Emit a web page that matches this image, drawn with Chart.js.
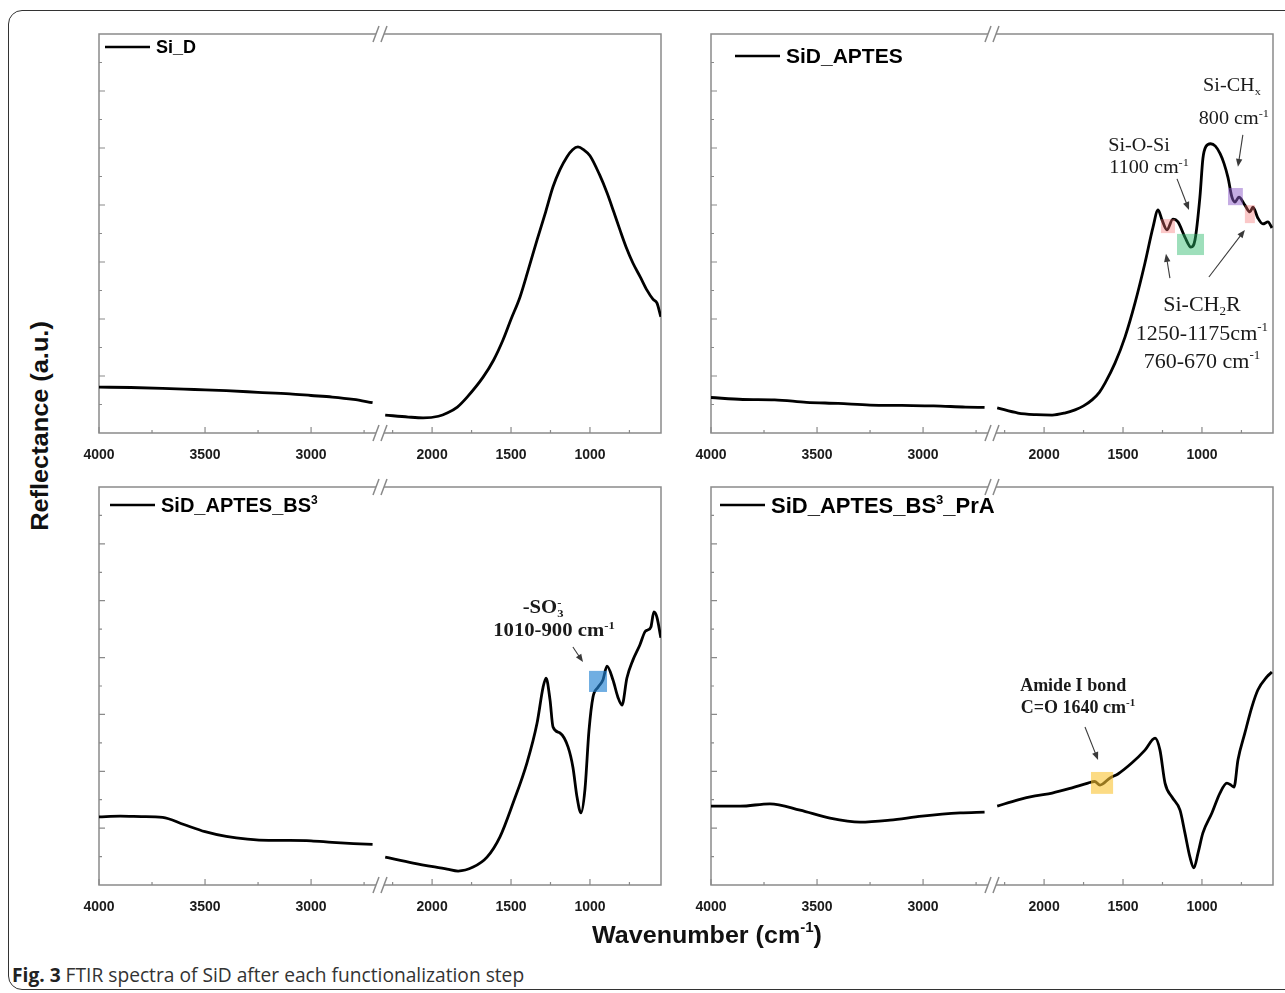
<!DOCTYPE html>
<html lang="en">
<head>
    <meta charset="UTF-8">
    <title>FTIR spectra of SiD</title>
    <script src="https://cdn.jsdelivr.net/npm/chart.js@4.4.1/dist/chart.umd.min.js"></script>
    <style>
        body { margin: 0; background: #fff; }
        .figure { position: relative; width: 1285px; height: 993px; overflow: hidden; font-family: "Liberation Sans", Arial, sans-serif; }
        .outer { position: absolute; left: 8px; top: 10px; width: 1300px; height: 980px; border: 1.5px solid #333; border-radius: 14px; box-sizing: border-box; }
        canvas { position: absolute; }
        .y-title, .x-title { position: absolute; font-weight: bold; font-size: 24px; color: #111; white-space: nowrap; line-height: 1; }
        .y-title { left: 40px; top: 426px; }
        .x-title { left: 707px; top: 935px; }
        .x-title sup { font-size: 60%; vertical-align: 0; position: relative; top: -0.75em; }
        .caption { position: absolute; left: 12px; top: 975px; font-family: "Open Sans", sans-serif; font-size: 20px; color: #333; white-space: nowrap; line-height: 1; transform-origin: 0 50%; }
        .caption b { color: #222; }
    </style>
</head>
<body>
<div class="figure">
    <div class="outer"></div>
    <canvas id="p1" width="642" height="470" style="left:59px; top:14px"></canvas>
    <canvas id="p2" width="614" height="470" style="left:671px; top:14px"></canvas>
    <canvas id="p3" width="642" height="470" style="left:59px; top:467px"></canvas>
    <canvas id="p4" width="614" height="470" style="left:671px; top:467px"></canvas>
    <div class="y-title" id="yTitle">Reflectance (a.u.)</div>
    <div class="x-title" id="xTitle">Wavenumber (cm<sup>-1</sup>)</div>
    <div class="caption" id="caption"><b>Fig. 3</b> FTIR spectra of SiD after each functionalization step</div>
</div>

<script>
    // broken wavenumber axis (cm-1): high part on the left, low part on the right
    const hiRange = [2675, 4000];
    const loRange = [550, 2330];
    const hiLabels = [4000, 3500, 3000];
    const hiMinor = [3750, 3250, 2750];
    const loLabels = [2000, 1500, 1000];
    const loMinor = [2250, 1750, 1250, 750];

    // Si_D
    const siD_hiWn = [4000, 3850, 3700, 3550, 3400, 3250, 3100, 3000, 2900, 2800, 2710];
    const siD_hiR  = [11.5, 11.4, 11.2, 10.9, 10.6, 10.2, 9.8, 9.4, 9.0, 8.4, 7.6];
    const siD_loWn = [2297, 2150, 2057, 1960, 1905, 1840, 1778, 1677, 1610, 1551, 1500, 1443, 1390, 1335, 1280, 1234, 1190, 1146, 1110, 1076, 1040, 1000, 940, 892, 850, 810, 770, 728, 680, 639, 600, 576, 551];
    const siD_loR  = [4.5, 4.0, 3.8, 4.2, 5.0, 6.5, 9.0, 14.0, 18.3, 23.3, 28.5, 34.1, 41.0, 48.4, 55.5, 61.7, 66.0, 69.2, 71.0, 71.7, 71.0, 69.5, 64.8, 60.2, 55.5, 50.9, 46.5, 42.6, 39.0, 35.8, 33.5, 32.6, 29.1];

    // SiD_APTES
    const aptes_hiWn = [4000, 3850, 3700, 3550, 3400, 3250, 3100, 2950, 2800, 2710];
    const aptes_hiR  = [8.9, 8.4, 8.3, 7.7, 7.4, 7.0, 6.9, 6.8, 6.5, 6.4];
    const aptes_loWn = [2297, 2165, 2050, 1949, 1870, 1804, 1750, 1696, 1650, 1614, 1551, 1487, 1424, 1361, 1310, 1278, 1253, 1222, 1184, 1152, 1108, 1070, 1044, 1013, 994, 975, 945, 915, 885, 860, 835, 810, 791, 766, 728, 696, 677, 646, 614, 582, 557];
    const aptes_loR  = [6.3, 5.0, 4.6, 4.5, 5.0, 5.8, 6.8, 8.3, 10.2, 12.5, 17.5, 24.1, 32.6, 42.6, 51.6, 55.9, 53.4, 50.9, 53.6, 52.9, 49.1, 46.6, 48.4, 59.1, 68.8, 71.8, 72.5, 71.9, 70.0, 67.5, 64.0, 59.1, 57.9, 59.1, 57.1, 55.4, 56.6, 53.9, 52.4, 52.9, 51.4];

    // SiD_APTES_BS3
    const bs_hiWn = [4000, 3900, 3800, 3700, 3600, 3500, 3400, 3300, 3200, 3100, 3000, 2900, 2800, 2710];
    const bs_hiR  = [17.1, 17.3, 17.2, 17.0, 15.2, 13.4, 12.2, 11.5, 11.2, 11.2, 11.1, 10.7, 10.4, 10.2];
    const bs_loWn = [2297, 2120, 1905, 1835, 1740, 1652, 1570, 1487, 1399, 1335, 1297, 1278, 1253, 1234, 1190, 1139, 1108, 1082, 1057, 1032, 1006, 981, 949, 918, 892, 854, 823, 797, 766, 728, 684, 652, 633, 614, 595, 576, 551];
    const bs_loR  = [7.0, 5.5, 4.0, 3.5, 4.5, 7.0, 12.1, 20.6, 30.7, 40.7, 49.7, 52.0, 46.5, 39.7, 38.2, 34.7, 29.6, 22.1, 18.1, 23.9, 38.9, 47.2, 49.7, 51.5, 55.0, 51.5, 47.2, 45.2, 52.0, 56.5, 60.3, 63.6, 64.1, 64.8, 68.6, 67.3, 62.1];

    // SiD_APTES_BS3_PrA
    const prA_hiWn = [4000, 3863, 3722, 3580, 3439, 3297, 3156, 3005, 2825, 2710];
    const prA_hiR  = [19.8, 19.8, 20.4, 18.8, 16.8, 15.8, 16.3, 17.3, 18.1, 18.3];
    const prA_loWn = [2297, 2165, 2057, 1949, 1823, 1722, 1680, 1646, 1582, 1532, 1443, 1361, 1297, 1266, 1234, 1190, 1139, 1108, 1076, 1051, 1025, 994, 937, 886, 842, 816, 797, 772, 728, 684, 646, 589, 557];
    const prA_loR  = [19.8, 21.4, 22.4, 23.1, 24.4, 25.6, 26.0, 25.1, 26.9, 27.9, 30.7, 33.9, 36.9, 33.9, 25.6, 22.1, 18.8, 13.1, 7.0, 4.3, 8.0, 13.1, 18.1, 23.1, 25.6, 25.1, 24.6, 31.4, 38.2, 44.7, 49.0, 52.3, 53.5];

    const SANS = '"Liberation Sans", Arial, sans-serif';
    const SERIF = '"Liberation Serif", "Times New Roman", serif';
    const FRAME = '#8a8a8a';

    const pts = (wn, r) => wn.map((w, i) => ({ x: w, y: r[i] }));

    // text with simple sub/superscripts: parts = [[text, 'sub'|'sup'|undefined, stackOnPrevious]]
    function drawRich(ctx, x, y, parts, o) {
        const small = Math.round(o.size * 0.6);
        const font = kind => `${o.weight || 'normal'} ${kind ? small : o.size}px ${o.family}`;
        let w = 0, prev = 0;
        const laid = parts.map(([text, kind, stack]) => {
            ctx.font = font(kind);
            const tw = ctx.measureText(text).width;
            const px = stack ? prev : w;
            prev = px;
            w = Math.max(w, px + tw);
            return { text, kind, px };
        });
        ctx.save();
        ctx.translate(x, y);
        ctx.scale(o.stretch || 1, 1);
        const x0 = o.align === 'center' ? -w / 2 : 0;
        ctx.fillStyle = o.color || '#111';
        ctx.textBaseline = 'alphabetic';
        ctx.textAlign = 'left';
        const base = o.size * 0.35;
        laid.forEach(p => {
            ctx.font = font(p.kind);
            const dy = p.kind === 'sup' ? -o.size * 0.4 : p.kind === 'sub' ? o.size * 0.22 : 0;
            ctx.fillText(p.text, x0 + p.px, base + dy);
        });
        ctx.restore();
    }

    function drawFrame(chart) {
        const { ctx, chartArea: a, scales } = chart;
        const y = scales.y, hi = scales.xHi, lo = scales.xLo;
        ctx.save();
        ctx.strokeStyle = FRAME;
        ctx.lineWidth = 1.5;
        ctx.strokeRect(a.left, a.top, a.right - a.left, a.bottom - a.top);

        // inward ticks, left axis
        ctx.lineWidth = 1.2;
        ctx.beginPath();
        for (let k = 1; k < 14; k++) {
            const py = y.getPixelForValue(k * 100 / 14);
            ctx.moveTo(a.left, py);
            ctx.lineTo(a.left + (k % 2 ? 3 : 6), py);
        }
        // inward ticks, bottom axis
        [[hi, hiLabels, 6], [hi, hiMinor, 3], [lo, loLabels, 6], [lo, loMinor, 3]].forEach(([s, vals, len]) => {
            vals.forEach(v => {
                const px = s.getPixelForValue(v);
                ctx.moveTo(px, a.bottom);
                ctx.lineTo(px, a.bottom - len);
            });
        });
        ctx.stroke();

        // axis break marks "//"
        const xm = hi.right;
        [a.top, a.bottom].forEach(yy => {
            ctx.fillStyle = '#fff';
            ctx.fillRect(xm - 4, yy - 2, 8, 4);
            ctx.strokeStyle = FRAME;
            ctx.lineWidth = 1.5;
            ctx.beginPath();
            ctx.moveTo(xm - 7, yy + 8); ctx.lineTo(xm - 1, yy - 8);
            ctx.moveTo(xm + 1, yy + 8); ctx.lineTo(xm + 7, yy - 8);
            ctx.stroke();
        });
        ctx.restore();
    }

    function drawArrow(ctx, x1, y1, x2, y2) {
        const ang = Math.atan2(y2 - y1, x2 - x1);
        ctx.beginPath();
        ctx.moveTo(x1, y1);
        ctx.lineTo(x2 - 5 * Math.cos(ang), y2 - 5 * Math.sin(ang));
        ctx.stroke();
        ctx.beginPath();
        ctx.moveTo(x2, y2);
        ctx.lineTo(x2 - 8 * Math.cos(ang) + 3.2 * Math.sin(ang), y2 - 8 * Math.sin(ang) - 3.2 * Math.cos(ang));
        ctx.lineTo(x2 - 8 * Math.cos(ang) - 3.2 * Math.sin(ang), y2 - 8 * Math.sin(ang) + 3.2 * Math.cos(ang));
        ctx.closePath();
        ctx.fill();
    }

    function drawNotes(chart, notes) {
        const { ctx, scales } = chart;
        const sx = scales.xLo, sy = scales.y;
        ctx.save();
        (notes.boxes || []).forEach(b => {
            const x1 = sx.getPixelForValue(b.wn[0]), x2 = sx.getPixelForValue(b.wn[1]);
            const y1 = sy.getPixelForValue(b.r[0]), y2 = sy.getPixelForValue(b.r[1]);
            ctx.fillStyle = b.color;
            ctx.fillRect(x1, y1, x2 - x1, y2 - y1);
        });
        ctx.strokeStyle = '#3a3a3a';
        ctx.fillStyle = '#3a3a3a';
        ctx.lineWidth = 1.1;
        (notes.arrows || []).forEach(ar => {
            drawArrow(ctx,
                sx.getPixelForValue(ar.from[0]), sy.getPixelForValue(ar.from[1]),
                sx.getPixelForValue(ar.to[0]), sy.getPixelForValue(ar.to[1]));
        });
        (notes.labels || []).forEach(l => {
            drawRich(ctx, sx.getPixelForValue(l.wn), sy.getPixelForValue(l.r), l.parts,
                { size: l.size, family: SERIF, weight: l.weight, stretch: l.stretch, align: 'center', color: '#1a1a1a' });
        });
        ctx.restore();
    }

    function drawLegend(chart, lg) {
        const { ctx, chartArea: a } = chart;
        const y = a.top + lg.dy;
        ctx.save();
        ctx.strokeStyle = '#000';
        ctx.lineWidth = 2.5;
        ctx.beginPath();
        ctx.moveTo(a.left + lg.dx0, y);
        ctx.lineTo(a.left + lg.dx1, y);
        ctx.stroke();
        drawRich(ctx, a.left + lg.dx1 + 6, y, lg.parts, { size: lg.size, family: SANS, weight: 'bold', color: '#000' });
        ctx.restore();
    }

    function axisOpts(range, labels) {
        return {
            type: 'linear',
            position: 'bottom',
            stack: 'wavenumber',
            stackWeight: 1,
            reverse: true,
            min: range[0],
            max: range[1],
            grid: { display: false, drawTicks: false },
            border: { display: false },
            afterBuildTicks: s => { s.ticks = labels.map(v => ({ value: v })); },
            afterFit: s => { s.height = 40; },
            ticks: {
                autoSkip: false,
                maxRotation: 0,
                padding: 14,
                color: '#1b1b1b',
                font: { family: SANS, size: 14, weight: 'bold' },
                callback: v => String(v)
            }
        };
    }

    function makePanel(id, p) {
        const line = { borderColor: '#000', borderWidth: 2.8, pointRadius: 0, cubicInterpolationMode: 'monotone', yAxisID: 'y' };
        return new Chart(document.getElementById(id), {
            type: 'line',
            data: {
                datasets: [
                    { ...line, label: p.name, data: pts(p.hiWn, p.hiR), xAxisID: 'xHi' },
                    { ...line, label: p.name, data: pts(p.loWn, p.loR), xAxisID: 'xLo' }
                ]
            },
            options: {
                responsive: false,
                animation: false,
                events: [],
                layout: { padding: p.pad },
                plugins: { legend: { display: false }, tooltip: { enabled: false } },
                scales: {
                    xHi: axisOpts(hiRange, hiLabels),
                    xLo: axisOpts(loRange, loLabels),
                    y: { display: false, min: 0, max: 100 }
                }
            },
            plugins: [{
                id: 'spectrumDecor',
                beforeDatasetsDraw: chart => drawFrame(chart),
                afterDatasetsDraw: chart => { drawNotes(chart, p.notes); drawLegend(chart, p.legend); }
            }]
        });
    }

    makePanel('p1', {
        name: 'Si_D',
        hiWn: siD_hiWn, hiR: siD_hiR, loWn: siD_loWn, loR: siD_loR,
        pad: { left: 40, right: 40, top: 20, bottom: 11 },
        legend: { dx0: 6, dx1: 51, dy: 13, size: 18, parts: [['Si_D']] },
        notes: {}
    });

    makePanel('p2', {
        name: 'SiD_APTES',
        hiWn: aptes_hiWn, hiR: aptes_hiR, loWn: aptes_loWn, loR: aptes_loR,
        pad: { left: 40, right: 12, top: 20, bottom: 11 },
        legend: { dx0: 24, dx1: 69, dy: 22, size: 21, parts: [['SiD_APTES']] },
        notes: {
            boxes: [
                { wn: [1260, 1171], r: [53.6, 50.1], color: 'rgba(245,110,110,0.38)' },
                { wn: [1158, 987], r: [49.9, 44.6], color: 'rgba(40,185,105,0.45)' },
                { wn: [835, 741], r: [61.4, 57.1], color: 'rgba(140,90,200,0.5)' },
                { wn: [728, 665], r: [57.1, 52.6], color: 'rgba(245,110,110,0.38)' }
            ],
            arrows: [
                { from: [1158, 63.7], to: [1082, 55.9] },
                { from: [741, 74.7], to: [772, 66.7] },
                { from: [1203, 38.8], to: [1228, 44.9] },
                { from: [956, 39.1], to: [728, 50.9] }
            ],
            labels: [
                { wn: 810, r: 87.2, size: 18, stretch: 1.12, parts: [['Si-CH'], ['x', 'sub']] },
                { wn: 798, r: 78.9, size: 18, stretch: 1.12, parts: [['800 cm'], ['-1', 'sup']] },
                { wn: 1399, r: 72.2, size: 18, stretch: 1.12, parts: [['Si-O-Si']] },
                { wn: 1335, r: 66.7, size: 18, stretch: 1.12, parts: [['1100 cm'], ['-1', 'sup']] },
                { wn: 1000, r: 32.6, size: 22, parts: [['Si-CH'], ['2', 'sub'], ['R']] },
                { wn: 1000, r: 25.3, size: 22, parts: [['1250-1175cm'], ['-1', 'sup']] },
                { wn: 1000, r: 18.3, size: 22, parts: [['760-670 cm'], ['-1', 'sup']] }
            ]
        }
    });

    makePanel('p3', {
        name: 'SiD_APTES_BS3',
        hiWn: bs_hiWn, hiR: bs_hiR, loWn: bs_loWn, loR: bs_loR,
        pad: { left: 40, right: 40, top: 20, bottom: 12 },
        legend: { dx0: 11, dx1: 56, dy: 18, size: 20, parts: [['SiD_APTES_BS'], ['3', 'sup']] },
        notes: {
            boxes: [{ wn: [1006, 892], r: [53.8, 48.5], color: 'rgba(35,130,210,0.65)' }],
            arrows: [{ from: [1108, 59.8], to: [1044, 56.0] }],
            labels: [
                { wn: 1297, r: 69.8, size: 18, weight: 'bold', stretch: 1.15, parts: [['-SO'], ['3', 'sub'], ['-', 'sup', true]] },
                { wn: 1228, r: 64.1, size: 18, weight: 'bold', stretch: 1.15, parts: [['1010-900 cm'], ['-1', 'sup']] }
            ]
        }
    });

    makePanel('p4', {
        name: 'SiD_APTES_BS3_PrA',
        hiWn: prA_hiWn, hiR: prA_hiR, loWn: prA_loWn, loR: prA_loR,
        pad: { left: 40, right: 12, top: 20, bottom: 12 },
        legend: { dx0: 9, dx1: 54, dy: 18, size: 22, parts: [['SiD_APTES_BS'], ['3', 'sup'], ['_PrA']] },
        notes: {
            boxes: [{ wn: [1703, 1563], r: [28.4, 22.9], color: 'rgba(250,195,50,0.6)' }],
            arrows: [{ from: [1741, 39.7], to: [1658, 31.4] }],
            labels: [
                { wn: 1816, r: 50.3, size: 18, weight: 'bold', parts: [['Amide I bond']] },
                { wn: 1785, r: 44.7, size: 18, weight: 'bold', parts: [['C=O 1640 cm'], ['-1', 'sup']] }
            ]
        }
    });

    // stretch the html titles to the lengths they have in the figure
    function fitWidth(id, target, base) {
        const el = document.getElementById(id);
        el.style.transform = `${base} scaleX(${(target / el.offsetWidth).toFixed(3)})`;
    }
    fitWidth('yTitle', 210, 'translate(-50%, -50%) rotate(-90deg)');
    fitWidth('xTitle', 230, 'translate(-50%, -50%)');
    fitWidth('caption', 512, 'translateY(-50%)');
</script>
</body>
</html>
